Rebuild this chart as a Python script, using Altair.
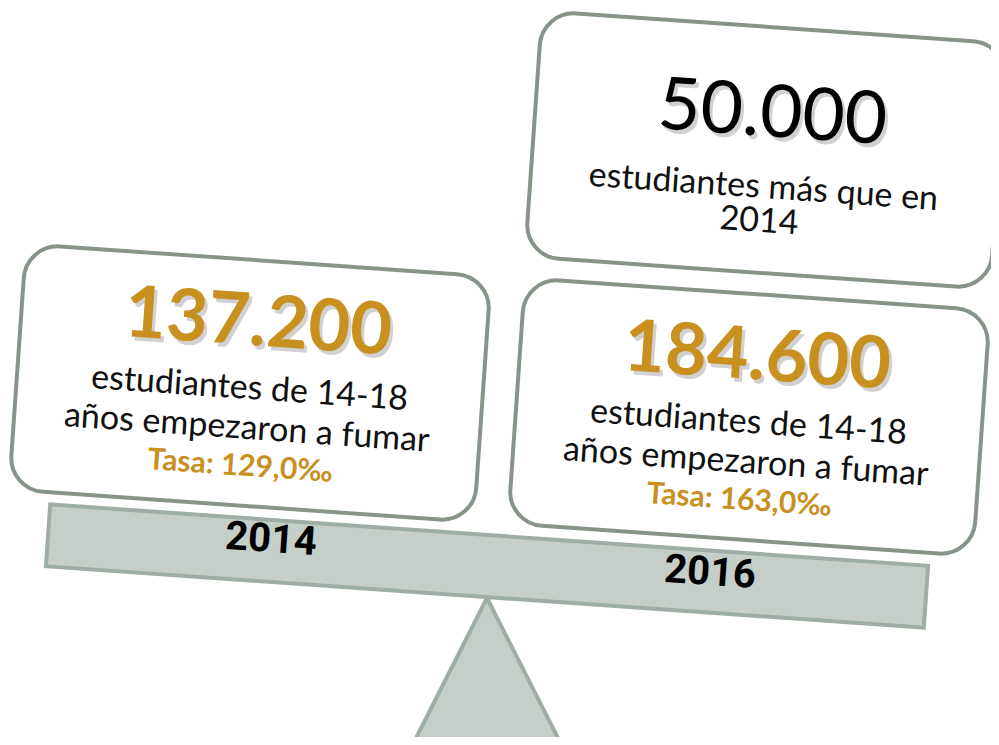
import math
import altair as alt
import pandas as pd

# ---------------- data ----------------
years = ["2014", "2016"]
students = [137200, 184600]          # students aged 14-18 who started smoking
rates = [129.0, 163.0]               # rate per thousand
increase = 50000                     # more students than in 2014
line1 = "estudiantes de 14-18"
line2 = "años empezaron a fumar"
inc_line1 = "estudiantes más que en"
inc_line2 = "2014"

# ---------------- layout constants ----------------
W, H = 983, 729
TILT = 4.0
GOLD = "#C8901F"
BOX_STROKE = "#879589"
BEAM_FILL = "#C5CEC8"
BEAM_STROKE = "#9FAEA4"
FONT = "Lato"

def es_num(v):
    return f"{v:,}".replace(",", ".")

def rot(cx, cy, dx, dy, deg=TILT):
    t = math.radians(deg)
    return (cx + dx * math.cos(t) - dy * math.sin(t),
            cy + dx * math.sin(t) + dy * math.cos(t))

def rrect(w, h, r):
    k = 0.5523 * r
    a, b = w / 2, h / 2
    return (f"M{-a + r},{-b} L{a - r},{-b} C{a - r + k},{-b} {a},{-b + r - k} {a},{-b + r} "
            f"L{a},{b - r} C{a},{b - r + k} {a - r + k},{b} {a - r},{b} "
            f"L{-a + r},{b} C{-a + r - k},{b} {-a},{b - r + k} {-a},{b - r} "
            f"L{-a},{-b + r} C{-a},{-b + r - k} {-a + r - k},{-b} {-a + r},{-b} Z")

X = alt.X("x:Q", scale=alt.Scale(domain=[8, 991], nice=False, zero=False), axis=None)
Y = alt.Y("y:Q", scale=alt.Scale(domain=[8, 737], nice=False, zero=False, reverse=True), axis=None)

box_centers = [(250, 383), (749, 417)]
top_center = (766, 150)
beam_center = (487, 566)
tri_center = (487, 671)

# ---------------- shapes ----------------
tri = alt.Chart(pd.DataFrame({"x": [tri_center[0]], "y": [tri_center[1]]})).mark_point(
    shape="M0,-73 L74,73 L-74,73 Z", size=4, filled=True, fill=BEAM_FILL,
    stroke=BEAM_STROKE, strokeWidth=4, opacity=1, fillOpacity=1, strokeOpacity=1
).encode(x=X, y=Y)

beam = alt.Chart(pd.DataFrame({"x": [beam_center[0]], "y": [beam_center[1]]})).mark_point(
    shape="M-440,-31 L440,-31 L440,31 L-440,31 Z", size=4, filled=True, fill=BEAM_FILL,
    stroke=BEAM_STROKE, strokeWidth=4, angle=TILT, opacity=1, fillOpacity=1, strokeOpacity=1
).encode(x=X, y=Y)

all_boxes = box_centers + [top_center]
boxes = alt.Chart(pd.DataFrame({"x": [c[0] for c in all_boxes],
                                "y": [c[1] for c in all_boxes]})).mark_point(
    shape=rrect(466, 246, 34), size=4, filled=True, fill="white",
    stroke=BOX_STROKE, strokeWidth=4, angle=TILT, opacity=1, fillOpacity=1, strokeOpacity=1
).encode(x=X, y=Y)

# ---------------- texts ----------------
def rows(items):
    return pd.DataFrame([{"x": p[0], "y": p[1], "label": t} for p, t in items])

num_items, shadow_items, l1_items, l2_items, tasa_items = [], [], [], [], []
for (cx, cy), v, r in zip(box_centers, students, rates):
    p = rot(cx, cy, 4, -60)
    num_items.append((p, es_num(v)))
    shadow_items.append(((p[0] + 3, p[1] + 4), es_num(v)))
    l1_items.append((rot(cx, cy, 0, 6), line1))
    l2_items.append((rot(cx, cy, 0, 46), line2))
    tasa_items.append((rot(cx, cy, -4, 84), f"Tasa: {r:.1f}‰".replace(".", ",")))

inc_p = rot(*top_center, 4, -36)
year_pos = [(271, 540), (710, 573)]

def text_layer(items, size, color, weight="normal", font=FONT, opacity=1):
    return alt.Chart(rows(items)).mark_text(
        angle=TILT, align="center", baseline="middle", font=font, fontSize=size,
        fontWeight=weight, color=color, opacity=opacity
    ).encode(x=X, y=Y, text="label:N")

layers = [
    tri, beam, boxes,
    text_layer(shadow_items, 72, "#9a9a9a", "bold", opacity=0.45),
    text_layer(num_items, 72, GOLD, "bold"),
    text_layer(l1_items, 34, "#111111"),
    text_layer(l2_items, 34, "#111111"),
    text_layer(tasa_items, 30, GOLD, "bold"),
    text_layer([((inc_p[0] + 3, inc_p[1] + 4), es_num(increase))], 73, "#9a9a9a", opacity=0.45),
    text_layer([(inc_p, es_num(increase))], 73, "#000000"),
    text_layer([(rot(*top_center, 0, 38), inc_line1)], 34, "#111111"),
    text_layer([(rot(*top_center, -2, 72), inc_line2)], 34, "#111111"),
    text_layer(list(zip(year_pos, years)), 40, "#000000", "bold", font="Roboto"),
]

chart = alt.layer(*layers).properties(
    width=W, height=H, padding=0,
    autosize=alt.AutoSizeParams(type="none"),
    background="white",
).configure_view(stroke=None)

chart.save("out.html", embed_options={"renderer": "svg", "actions": False})
